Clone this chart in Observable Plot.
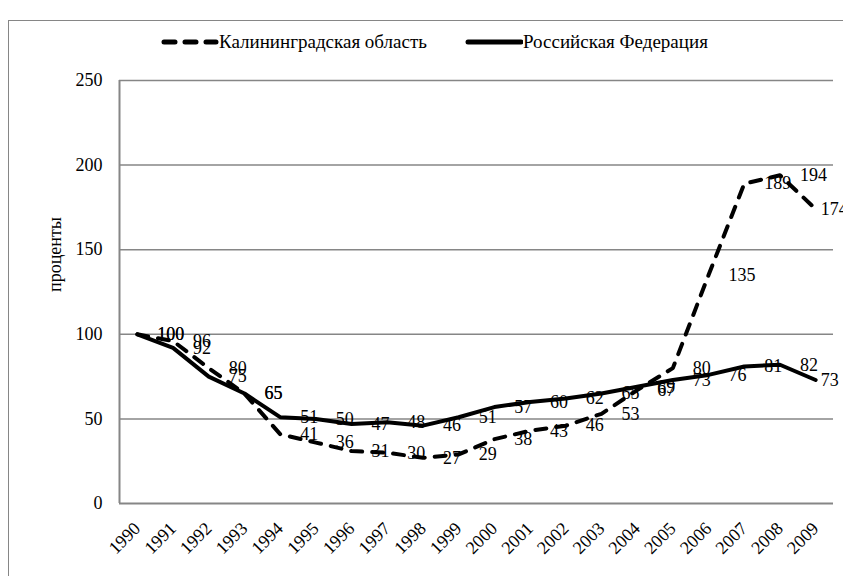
<!DOCTYPE html>
<html>
<head>
<meta charset="utf-8">
<script src="https://cdn.jsdelivr.net/npm/d3@7"></script>
<script src="https://cdn.jsdelivr.net/npm/@observablehq/plot@0.6"></script>
<style>
  html, body { margin: 0; padding: 0; background: #fff; width: 843px; height: 576px; overflow: hidden; }
  body { position: relative; font-family: "Liberation Serif", "Times New Roman", "DejaVu Serif", serif; }
  #frame { position: absolute; left: 8px; top: 20px; width: 900px; height: 600px; border: 1px solid #868686; box-sizing: border-box; }
  #chart { position: absolute; left: 0; top: 0; }
  #chart svg text { font-family: "Liberation Serif", "Times New Roman", "DejaVu Serif", serif; }
  .leg { position: absolute; top: 32px; height: 20px; display: flex; align-items: center; font-size: 19px; color: #000; white-space: nowrap; }
  .leg svg { display: block; }
</style>
</head>
<body>
<div id="frame"></div>
<div id="chart"></div>
<div class="leg" style="left:161px;"><svg width="58" height="12"><line x1="3" y1="6" x2="55" y2="6" stroke="#000" stroke-width="5" stroke-linecap="round" stroke-dasharray="11,10"></line></svg><span>Калининградская область</span></div>
<div class="leg" style="left:465px;"><svg width="58" height="12"><line x1="3" y1="6" x2="56" y2="6" stroke="#000" stroke-width="5" stroke-linecap="round"></line></svg><span>Российская Федерация</span></div>
<script>
const years = [1990,1991,1992,1993,1994,1995,1996,1997,1998,1999,2000,2001,2002,2003,2004,2005,2006,2007,2008,2009];
const kaliningrad = [100,96,80,65,41,36,31,30,27,29,38,43,46,53,67,80,135,189,194,174];
const russia = [100,92,75,65,51,50,47,48,46,51,57,60,62,65,69,73,76,81,82,73];
const yTicks = [0,50,100,150,200,250];
const gridTicks = [50,100,150,200,250];
const yLabel = "проценты";

const kal = years.map((y, i) => ({year: y, value: kaliningrad[i]}));
const rus = years.map((y, i) => ({year: y, value: russia[i]}));
const lastYear = years[years.length - 1];
const allLabels = kal.concat(rus);

const font = "Liberation Serif, Times New Roman, DejaVu Serif, serif";
const fs = 18;
const chart = Plot.plot({
  width: 843,
  height: 576,
  marginLeft: 119,
  marginRight: 10,
  marginTop: 80,
  marginBottom: 73,
  style: {fontFamily: font, fontSize: fs + "px", background: "transparent", color: "#000", overflow: "visible"},
  x: {domain: [1989.5, 2009.5], axis: null, label: null},
  y: {domain: [0, 250], axis: null, label: null},
  marks: [
    Plot.ruleY(gridTicks, {stroke: "#868686", strokeWidth: 1.5, strokeOpacity: 1}),
    Plot.ruleY([0], {stroke: "#868686", strokeWidth: 2, strokeOpacity: 1}),
    Plot.ruleX([1989.5], {y1: 0, y2: 250, stroke: "#868686", strokeWidth: 2, strokeOpacity: 1}),
    Plot.axisY(yTicks, {tickSize: 0, tickPadding: 17, label: null, fontSize: fs, fill: "#000"}),
    Plot.axisX(years, {tickSize: 0, tickRotate: -45, tickPadding: 22, label: null, tickFormat: d => String(d), fontSize: fs, fill: "#000"}),
    Plot.text([yLabel], {frameAnchor: "left", dx: -64, rotate: -90, fontSize: fs, fill: "#000"}),
    Plot.line(rus, {x: "year", y: "value", stroke: "#000", strokeWidth: 4, strokeLinejoin: "round"}),
    Plot.line(kal, {x: "year", y: "value", stroke: "#000", strokeWidth: 4, strokeDasharray: "11,10", strokeLinecap: "round", strokeLinejoin: "round"}),
    Plot.text(allLabels.filter(d => d.year !== lastYear), {x: "year", y: "value", text: d => String(d.value), dx: 20, textAnchor: "start", fontSize: fs, fill: "#000"}),
    Plot.text(allLabels.filter(d => d.year === lastYear), {x: "year", y: "value", text: d => String(d.value), dx: 5, textAnchor: "start", fontSize: fs, fill: "#000"})
  ]
});
document.getElementById("chart").appendChild(chart);
</script>
</body>
</html>
